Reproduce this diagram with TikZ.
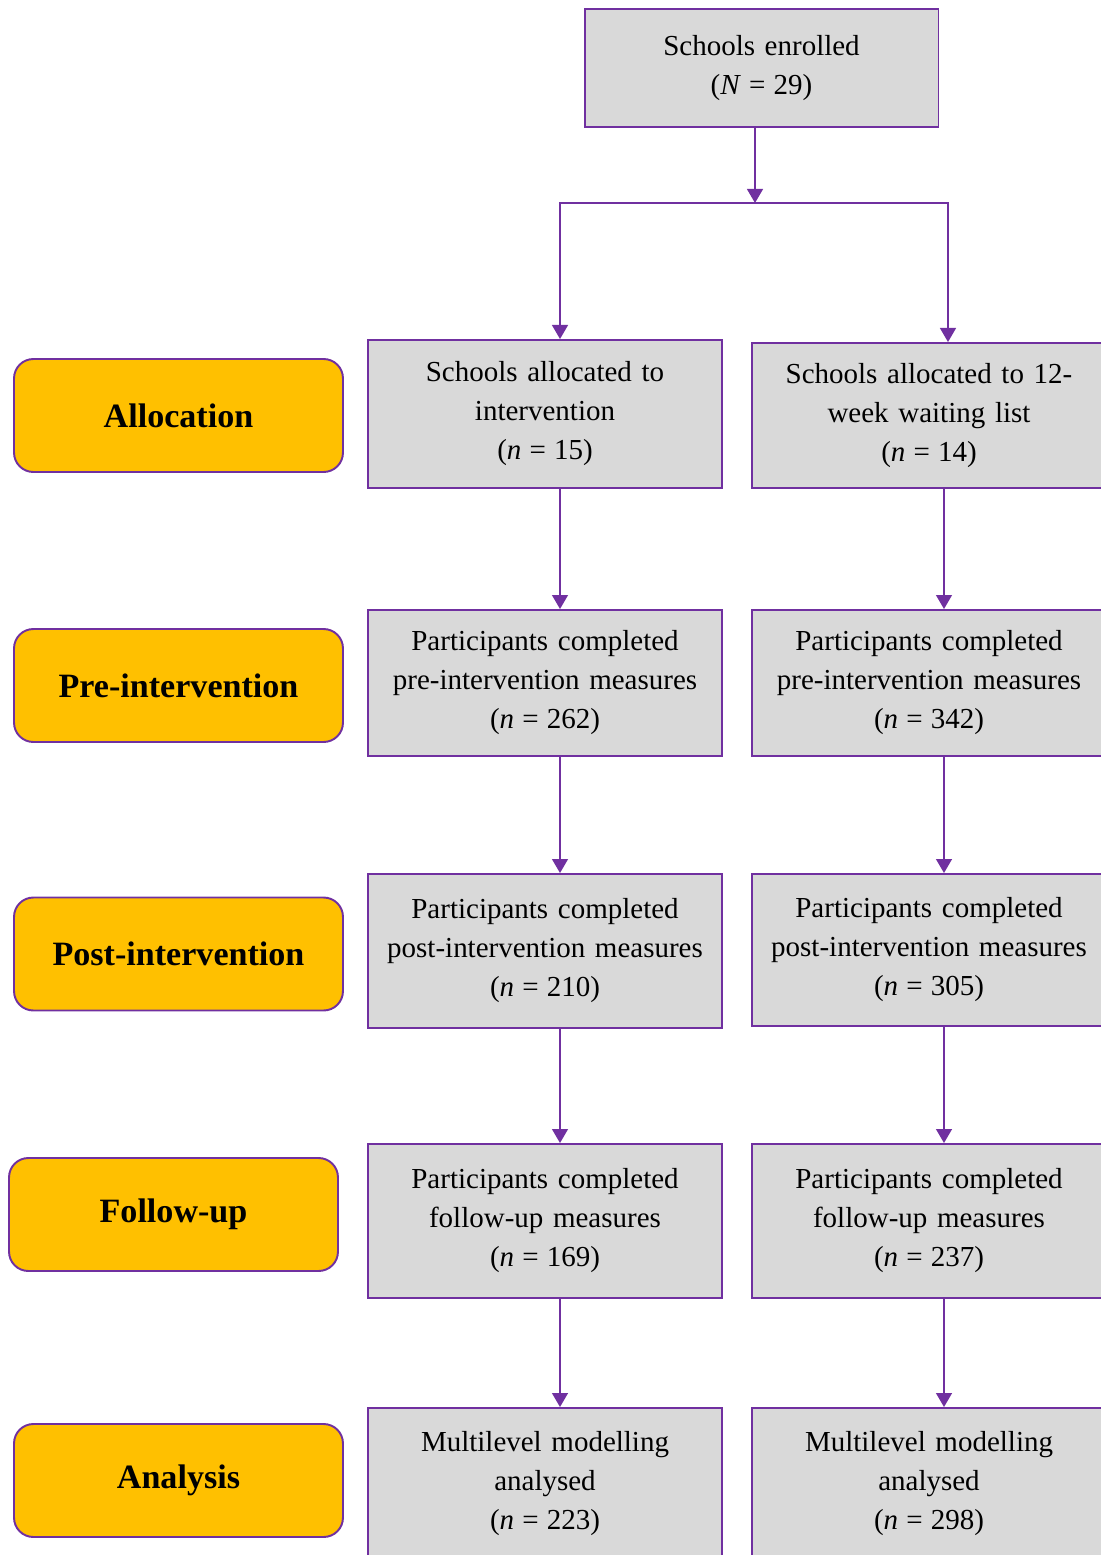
\documentclass[tikz,border=0pt]{standalone}
\usepackage{fontspec}
\setmainfont{Liberation Serif}
\definecolor{plum}{HTML}{7030A0}
\definecolor{amber}{HTML}{FFC000}
\definecolor{boxgray}{HTML}{D9D9D9}
\usetikzlibrary{arrows.meta, positioning}
\newcommand{\nval}[2]{(\textit{#1}\hspace{.28em}=\hspace{.28em}#2)}

\begin{document}
\begin{tikzpicture}[x=0.02cm, y=-0.02cm,
  flowbox/.style={draw=plum, line width=1.1pt, fill=boxgray,
                  text width=6.9cm, minimum width=7.08cm, align=center,
                  inner sep=2pt, font=\fontsize{16.5}{22.2}\selectfont},
  stage/.style={draw=plum, line width=1.1pt, fill=amber, rounded corners=11pt,
                minimum width=6.58cm, minimum height=2.26cm,
                font=\fontsize{19.4}{23}\selectfont\bfseries},
  arr/.style={draw=plum, line width=1.15pt, -{Triangle[width=9pt,length=8pt]}},
]
\useasboundingbox (0,0) rectangle (1100,1555);

% stage labels
\node[stage] (sAlloc) at (178.5,415.5) {Allocation};
\node[stage] (sPre)   at (178.5,685.5) {Pre-intervention};
\node[stage] (sPost)  at (178.5,954)   {Post-intervention};
\node[stage] (sFol)   at (173.5,1214.5) {Follow-up};
\node[stage] (sAna)   at (178.5,1480.5) {Analysis};

% flow boxes
\node[flowbox, minimum height=2.36cm] (enr) at (761.5,68) {
  Schools enrolled\\\nval{N}{29}\hspace*{0.44cm}};

\node[flowbox, minimum height=2.96cm] (a1) at (545,414) {
  Schools allocated to\\intervention\\\nval{n}{15}};
\node[flowbox, minimum height=2.9cm] (a2) at (929,415.5) {
  Schools allocated to 12-\\week waiting list\\\nval{n}{14}};

\node[flowbox, minimum height=2.92cm] (p1) at (545,683) {
  Participants completed\\pre-intervention measures\\\nval{n}{262}};
\node[flowbox, minimum height=2.92cm] (p2) at (929,683) {
  Participants completed\\pre-intervention measures\\\nval{n}{342}};

\node[flowbox, minimum height=3.08cm] (o1) at (545,951) {
  Participants completed\\post-intervention measures\\\nval{n}{210}};
\node[flowbox, minimum height=3.04cm] (o2) at (929,950) {
  Participants completed\\post-intervention measures\\\nval{n}{305}};

\node[flowbox, minimum height=3.08cm] (f1) at (545,1221) {
  Participants completed\\follow-up measures\\\nval{n}{169}};
\node[flowbox, minimum height=3.08cm] (f2) at (929,1221) {
  Participants completed\\follow-up measures\\\nval{n}{237}};

\node[flowbox, minimum height=3.04cm] (m1) at (545,1484) {
  Multilevel modelling\\analysed\\\nval{n}{223}};
\node[flowbox, minimum height=3.04cm] (m2) at (929,1484) {
  Multilevel modelling\\analysed\\\nval{n}{298}};

% connectors
\coordinate (split) at (755,203);
\coordinate (cl) at (560,203);
\coordinate (cr) at (948,203);
\coordinate (colr) at (944,0);

\draw[arr] (enr.south -| split) -- (split);
\draw[arr] (split) -- (cl) -- (cl |- a1.north);
\draw[arr] (split) -- (cr) -- (cr |- a2.north);

\draw[arr] (a1.south -| cl) -- (p1.north -| cl);
\draw[arr] (p1.south -| cl) -- (o1.north -| cl);
\draw[arr] (o1.south -| cl) -- (f1.north -| cl);
\draw[arr] (f1.south -| cl) -- (m1.north -| cl);

\draw[arr] (a2.south -| colr) -- (p2.north -| colr);
\draw[arr] (p2.south -| colr) -- (o2.north -| colr);
\draw[arr] (o2.south -| colr) -- (f2.north -| colr);
\draw[arr] (f2.south -| colr) -- (m2.north -| colr);
\end{tikzpicture}
\end{document}
